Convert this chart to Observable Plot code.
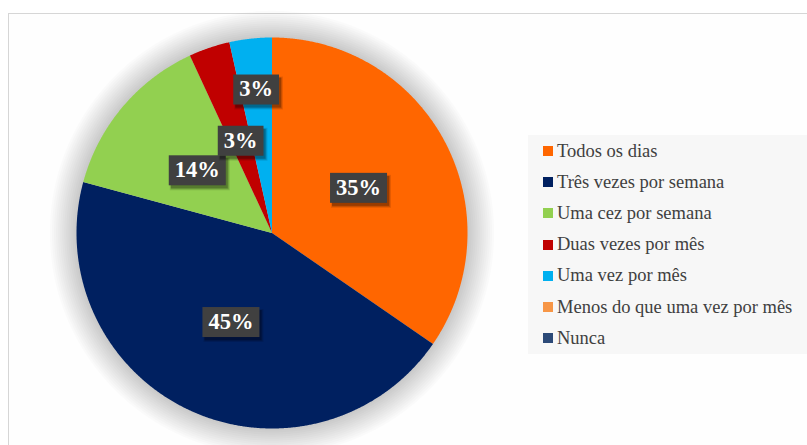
<!DOCTYPE html>
<html><head><meta charset="utf-8">
<script src="https://cdn.jsdelivr.net/npm/d3@7"></script>
<script src="https://cdn.jsdelivr.net/npm/@observablehq/plot@0.6"></script>
<style>
html,body{margin:0;padding:0;background:#fff;width:807px;height:445px;overflow:hidden;}
#frame{position:absolute;left:8px;top:13px;width:830px;height:470px;border:1px solid #d6d6d6;background:#fefefe;box-sizing:border-box;}
#chart{position:absolute;left:0;top:0;}
#legend{position:absolute;left:528px;top:135px;width:300px;height:219px;background:#f7f7f7;}
.item{position:absolute;left:15px;height:20px;display:flex;align-items:center;font-family:"Times New Roman","Liberation Serif",Times,"DejaVu Serif",serif;font-size:18.5px;color:#404040;white-space:nowrap}
.sw{width:10px;height:10px;margin-right:4px;flex:none}
</style></head>
<body>
<div id="frame"></div>
<div id="chart"></div>
<div id="legend"></div>
<script>
const categories = ["Todos os dias","Três vezes por semana","Uma cez por semana","Duas vezes por mês","Uma vez por mês","Menos do que uma vez por mês","Nunca"];
const values = [34.6,44.6,13.9,3.4,3.5,0,0];
const colors = ["#FF6600","#002060","#92D050","#C00000","#00B0F0","#F79646","#2C4A78"];
const labels = ["35%","45%","14%","3%","3%","",""];

const data = categories.map((c,i)=>({category:c, value:values[i], label:labels[i]}));
const arcs = d3.pie().sort(null).value(d=>d.value)(data);

// slice outlines in unit-circle space (angle 0 at top, clockwise)
const pts = [];
arcs.forEach(a=>{
  if (a.value <= 0) return;
  const c = a.data.category;
  const n = Math.max(2, Math.ceil((a.endAngle - a.startAngle) / 0.005));
  pts.push({category:c, x:0, y:0});
  for (let k = 0; k <= n; k++) {
    const t = a.startAngle + (a.endAngle - a.startAngle) * k / n;
    pts.push({category:c, x:Math.sin(t), y:Math.cos(t)});
  }
  pts.push({category:c, x:0, y:0});
});

// soft halo: stacked translucent discs slightly larger than the pie
const halo = [];
for (let k = 1; k <= 13; k++) {
  const r = 1 + k * 0.0105;
  for (let j = 0; j <= 360; j++) {
    const t = j * Math.PI / 180;
    halo.push({ring:k, x:r*Math.sin(t), y:r*Math.cos(t)});
  }
}

// label anchors at the slice centroid (half radius); small last slice pushed outward to avoid overlap
const labelData = arcs.filter(a=>a.value>0).map((a,i,arr)=>{
  const mid = (a.startAngle + a.endAngle) / 2;
  const r = (i === arr.length - 1) ? 0.74 : 0.5;
  return {label:a.data.label, x:r*Math.sin(mid), y:r*Math.cos(mid)};
});

const serif = '"Times New Roman","Liberation Serif",Times,"DejaVu Serif",serif';
const plot = Plot.plot({
  width:807, height:445, margin:0,
  style:{background:"transparent", overflow:"visible", fontFamily:serif},
  x:{domain:[-1,1], range:[76,467], axis:null},
  y:{domain:[-1,1], range:[428,37], axis:null},
  color:{domain:categories, range:colors},
  marks:[
    Plot.line(halo,{x:"x", y:"y", z:"ring", fill:"#000", fillOpacity:0.014, stroke:"none", curve:"linear"}),
    Plot.line(pts,{x:"x", y:"y", z:"category", fill:"category", stroke:"none", curve:"linear"}),
    Plot.text(labelData,{x:"x", y:"y", text:"label", fill:"white", fontSize:22.5, fontWeight:"bold"})
  ]
});
document.getElementById("chart").appendChild(plot);

const NS = "http://www.w3.org/2000/svg";
// boxes (with a soft offset shadow) behind the labels
const textG = plot.querySelector('g[aria-label="text"]');
if (textG) {
  textG.querySelectorAll("text").forEach(t=>{
    const bb = t.getBBox();
    const ay = parseFloat(t.getAttribute("y") || 0);
    const tr = t.getAttribute("transform");
    const mk = (dx, dy, grow, fill) => {
      const r = document.createElementNS(NS,"rect");
      r.setAttribute("x", bb.x - 6 + dx - grow);
      r.setAttribute("width", bb.width + 12 + 2*grow);
      r.setAttribute("y", ay - 15 + dy - grow);
      r.setAttribute("height", 30 + 2*grow);
      r.setAttribute("fill", fill);
      if (tr) r.setAttribute("transform", tr);
      textG.insertBefore(r, t);
    };
    mk(2.5, 3.5, 1.5, "rgba(0,0,0,0.10)");
    mk(2.5, 3.5, 0.5, "rgba(0,0,0,0.15)");
    mk(2, 3, 0, "rgba(0,0,0,0.22)");
    mk(0, 0, 0, "#404040");
  });
}

// legend
const legend = document.getElementById("legend");
categories.forEach((c,i)=>{
  const it = document.createElement("div");
  it.className = "item";
  it.style.top = (6 + 31.2*i) + "px";
  const sw = document.createElement("span");
  sw.className = "sw";
  sw.style.background = colors[i];
  const tx = document.createElement("span");
  tx.textContent = c;
  it.appendChild(sw); it.appendChild(tx);
  legend.appendChild(it);
});
</script>
</body></html>
